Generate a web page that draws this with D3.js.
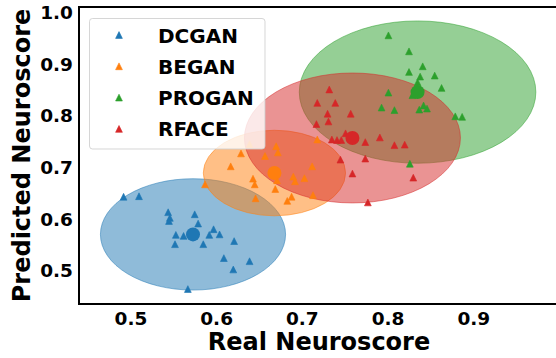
<!DOCTYPE html>
<html>
<head>
<meta charset="utf-8">
<script src="https://cdn.jsdelivr.net/npm/d3@7"></script>
<style>
  body { margin: 0; background: #fff; }
  svg { display: block; font-family: "DejaVu Sans", sans-serif; font-weight: bold; }
</style>
</head>
<body>
<svg id="chart" width="556" height="358"></svg>
<script>
const series = ["DCGAN", "BEGAN", "PROGAN", "RFACE"];
const colours = ["#1f77b4", "#ff7f0e", "#2ca02c", "#d62728"];

const xTicks = [0.5, 0.6, 0.7, 0.8, 0.9];
const yTicks = [0.5, 0.6, 0.7, 0.8, 0.9, 1.0];

// real / predicted scores per model
const dcganX = [0.492, 0.510, 0.544, 0.546, 0.545, 0.575, 0.579, 0.553, 0.552, 0.562, 0.585, 0.592, 0.597, 0.604, 0.621, 0.609, 0.639, 0.620, 0.567];
const dcganY = [0.642, 0.643, 0.612, 0.601, 0.595, 0.608, 0.590, 0.568, 0.550, 0.566, 0.550, 0.568, 0.579, 0.569, 0.556, 0.523, 0.517, 0.501, 0.463];

const beganX = [0.587, 0.617, 0.629, 0.639, 0.657, 0.670, 0.672, 0.643, 0.645, 0.646, 0.669, 0.671, 0.690, 0.692, 0.703, 0.712, 0.718, 0.683, 0.688, 0.713];
const beganY = [0.666, 0.701, 0.726, 0.744, 0.721, 0.740, 0.728, 0.677, 0.666, 0.639, 0.657, 0.674, 0.681, 0.672, 0.678, 0.701, 0.753, 0.634, 0.642, 0.645];

const proganX = [0.801, 0.825, 0.841, 0.825, 0.838, 0.855, 0.863, 0.835, 0.829, 0.801, 0.793, 0.808, 0.837, 0.842, 0.846, 0.879, 0.887, 0.826];
const proganY = [0.955, 0.924, 0.895, 0.884, 0.875, 0.877, 0.853, 0.864, 0.839, 0.844, 0.815, 0.810, 0.811, 0.819, 0.813, 0.798, 0.797, 0.706];

const rfaceX = [0.732, 0.718, 0.739, 0.730, 0.731, 0.757, 0.717, 0.735, 0.741, 0.746, 0.751, 0.774, 0.791, 0.808, 0.820, 0.745, 0.774, 0.759, 0.830, 0.777];
const rfaceY = [0.850, 0.824, 0.824, 0.803, 0.788, 0.803, 0.783, 0.753, 0.752, 0.752, 0.765, 0.748, 0.757, 0.742, 0.743, 0.714, 0.716, 0.687, 0.679, 0.631];

// cluster centres and ellipse radii (data units)
const meanX = [0.573, 0.668, 0.835, 0.759];
const meanY = [0.569, 0.688, 0.845, 0.756];
const radius = [0.108, 0.083, 0.138, 0.126];

const pointsX = [dcganX, beganX, proganX, rfaceX];
const pointsY = [dcganY, beganY, proganY, rfaceY];

const svg = d3.select("#chart");
const plotLeft = 79, plotRight = 559, plotTop = 7, plotBottom = 304;

const x = d3.scaleLinear().domain([0.44, 1.0]).range([plotLeft, plotRight]);
const y = d3.scaleLinear().domain([0.434, 1.01]).range([plotBottom, plotTop]);

const groups = series.map((name, i) => ({
  name: name,
  colour: colours[i],
  cx: meanX[i],
  cy: meanY[i],
  r: radius[i],
  points: pointsX[i].map((v, j) => ({ x: v, y: pointsY[i][j] }))
}));

// ellipses first; red comes last so it sits above green
svg.append("g")
  .selectAll("ellipse")
  .data(groups)
  .enter()
  .append("ellipse")
  .attr("cx", d => x(d.cx))
  .attr("cy", d => y(d.cy))
  .attr("rx", d => x(d.cx + d.r) - x(d.cx))
  .attr("ry", d => y(d.cy) - y(d.cy + d.r))
  .attr("fill", d => d.colour)
  .attr("fill-opacity", 0.5)
  .attr("stroke", d => d.colour)
  .attr("stroke-opacity", 0.5)
  .attr("stroke-width", 1);

const tri = s => `M0,${-s}L${s},${s}L${-s},${s}Z`;

const pts = svg.append("g");
groups.forEach(g => {
  pts.append("g")
    .selectAll("path")
    .data(g.points)
    .enter()
    .append("path")
    .attr("d", tri(3.4))
    .attr("transform", d => `translate(${x(d.x)},${y(d.y)})`)
    .attr("fill", g.colour)
    .attr("stroke", g.colour)
    .attr("stroke-width", 0.6);
});

svg.append("g")
  .selectAll("circle")
  .data(groups)
  .enter()
  .append("circle")
  .attr("cx", d => x(d.cx))
  .attr("cy", d => y(d.cy))
  .attr("r", 7)
  .attr("fill", d => d.colour);

// axes, no tick marks
const xAxis = svg.append("g")
  .attr("transform", `translate(0,${plotBottom})`)
  .call(d3.axisBottom(x).tickValues(xTicks).tickFormat(d3.format(".1f")).tickSize(0).tickPadding(0));
xAxis.select(".domain").remove();
xAxis.selectAll("text")
  .attr("y", 21)
  .attr("dy", 0)
  .attr("font-size", 18.5)
  .attr("font-family", "DejaVu Sans")
  .attr("font-weight", "bold")
  .attr("fill", "#000");

const yAxis = svg.append("g")
  .attr("transform", `translate(${plotLeft},0)`)
  .call(d3.axisLeft(y).tickValues(yTicks).tickFormat(d3.format(".1f")).tickSize(0).tickPadding(6));
yAxis.select(".domain").remove();
yAxis.selectAll("text")
  .attr("dy", "0.36em")
  .attr("font-size", 18.5)
  .attr("font-family", "DejaVu Sans")
  .attr("font-weight", "bold")
  .attr("fill", "#000");

// spines (right one falls just off the canvas)
svg.append("rect")
  .attr("x", plotLeft)
  .attr("y", plotTop)
  .attr("width", plotRight - plotLeft)
  .attr("height", plotBottom - plotTop)
  .attr("fill", "none")
  .attr("stroke", "#000")
  .attr("stroke-width", 2);

svg.append("text")
  .attr("x", (plotLeft + plotRight) / 2)
  .attr("y", 350)
  .attr("text-anchor", "middle")
  .attr("font-size", 24)
  .text("Real Neuroscore");

svg.append("text")
  .attr("transform", `translate(30,${(plotTop + plotBottom) / 2}) rotate(-90)`)
  .attr("text-anchor", "middle")
  .attr("font-size", 24)
  .text("Predicted Neuroscore");

// legend
const legend = svg.append("g");
legend.append("rect")
  .attr("x", 89.5)
  .attr("y", 18.5)
  .attr("width", 175.5)
  .attr("height", 130.5)
  .attr("rx", 3)
  .attr("fill", "#fff")
  .attr("fill-opacity", 0.8)
  .attr("stroke", "#ccc")
  .attr("stroke-opacity", 0.8)
  .attr("stroke-width", 1);

const item = legend.selectAll(".legend-item")
  .data(groups)
  .enter()
  .append("g")
  .attr("class", "legend-item")
  .attr("transform", (d, i) => `translate(0,${35 + i * 31.3})`);

item.append("path")
  .attr("d", tri(3.4))
  .attr("transform", "translate(119,0)")
  .attr("fill", d => d.colour)
  .attr("stroke", d => d.colour)
  .attr("stroke-width", 0.6);

item.append("text")
  .attr("x", 158)
  .attr("y", 7.5)
  .attr("font-size", 20)
  .text(d => d.name);
</script>
</body>
</html>
